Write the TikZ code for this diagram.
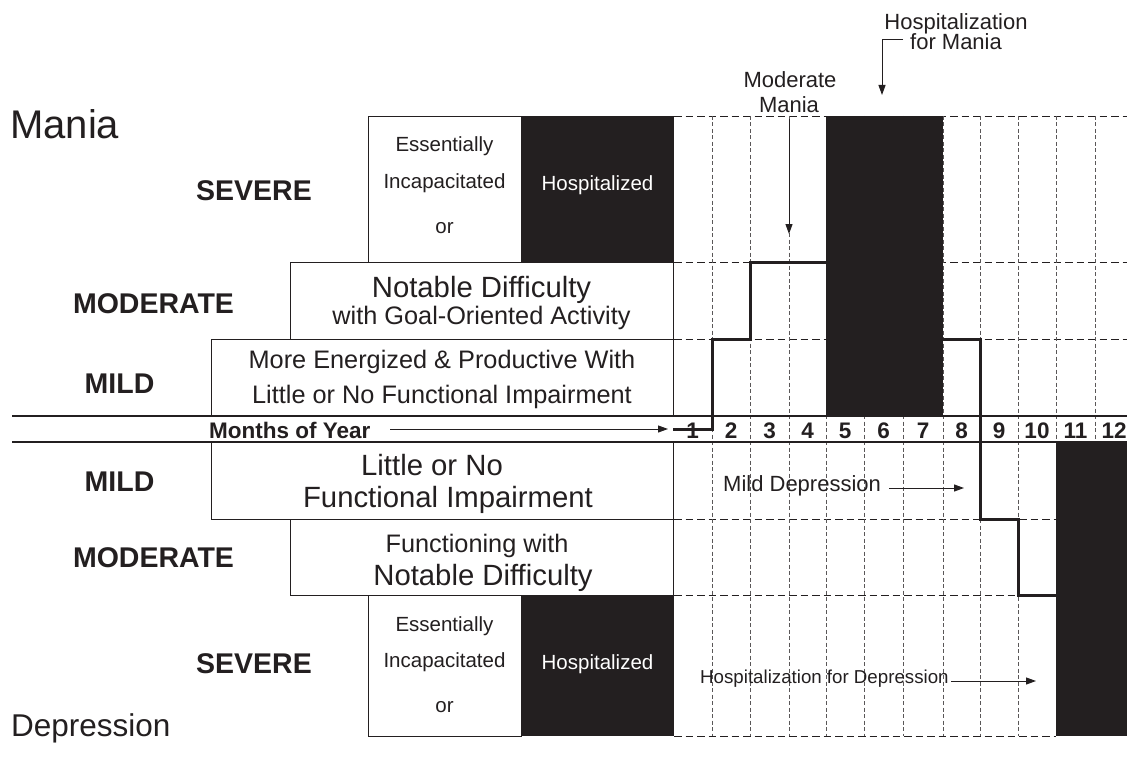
\documentclass[tikz,border=0pt]{standalone}
\usepackage{fontspec}
\setmainfont{Liberation Sans}
\usetikzlibrary{arrows.meta}
\definecolor{ink}{RGB}{35,31,32}
\begin{document}
\begin{tikzpicture}[x=1pt,y=-1pt,
  hgrid/.style={ink, line width=0.9pt, dash pattern=on 7.5pt off 4pt},
  vgrid/.style={ink!75, line width=0.8pt, dash pattern=on 4pt off 2.5pt},
  boxr/.style={draw=ink, line width=1.3pt, fill=white, inner sep=0pt, anchor=north west},
  blk/.style={fill=ink, draw=none, inner sep=0pt, anchor=north west},
  axis/.style={ink, line width=2.4pt},
  course/.style={ink, line width=3pt, line join=miter},
  arr/.style={ink, line width=1pt, -{Triangle[length=10pt,width=7pt]}},
  lvl/.style={font=\fontsize{28.5}{30}\selectfont\bfseries, text=ink, anchor=base, inner sep=0pt},
  big/.style={font=\fontsize{29.3}{32}\selectfont, text=ink, anchor=base, inner sep=0pt},
  mid/.style={font=\fontsize{25.3}{28}\selectfont, text=ink, anchor=base, inner sep=0pt},
  sml/.style={font=\fontsize{20.5}{24}\selectfont, text=ink, anchor=base, inner sep=0pt},
  ann/.style={font=\fontsize{22}{24}\selectfont, text=ink, anchor=base, inner sep=0pt},
  mon/.style={font=\fontsize{22.5}{24}\selectfont\bfseries, text=ink, anchor=base, inner sep=0pt},
  title/.style={text=ink, anchor=base west, inner sep=0pt}
]
\useasboundingbox (0,0) rectangle (1127,757);
\fill[white] (0,0) rectangle (1127,757);

% dashed grid
\foreach \y in {116,262,339,519,595} \draw[hgrid] (674,\y) -- (1127,\y);
\draw[hgrid] (674,736) -- (1056,736);
\foreach \x in {712,750,789,826,864,903,943,980,1018,1056,1095}
  \draw[vgrid] (\x,116) -- (\x,736);

% black periods
\node[blk, minimum width=117pt, minimum height=300pt] (hospM) at (826,116) {};
\node[blk, minimum width=71pt, minimum height=294pt] (hospD) at (1056,442) {};

% left description boxes (mania)
\node[boxr, minimum width=153pt, minimum height=146pt] (sevMw) at (368,116) {};
\node[blk, minimum width=153pt, minimum height=146pt] (sevMb) at (521,116) {};
\node[boxr, minimum width=383pt, minimum height=77pt] (modM) at (290,262) {};
\node[boxr, minimum width=462pt, minimum height=77pt] (mildM) at (211,339) {};
% left description boxes (depression)
\node[boxr, minimum width=462pt, minimum height=77pt] (mildD) at (211,442) {};
\node[boxr, minimum width=383pt, minimum height=76pt] (modD) at (290,519) {};
\node[boxr, minimum width=153pt, minimum height=141pt] (sevDw) at (368,595) {};
\node[blk, minimum width=153pt, minimum height=141pt] (sevDb) at (521,595) {};

% axis lines
\draw[axis] (12,416) -- (1127,416);
\draw[axis] (12,442) -- (1127,442);

% course of illness
\coordinate (c0) at (673,429);
\coordinate (c1) at (712,429);
\coordinate (c2) at (712,339);
\coordinate (c3) at (750,339);
\coordinate (c4) at (750,262);
\coordinate (c5) at (826,262);
\coordinate (d0) at (943,339);
\coordinate (d1) at (980,339);
\coordinate (d2) at (980,519);
\coordinate (d3) at (1018,519);
\coordinate (d4) at (1018,595);
\coordinate (d5) at (1056,595);
\draw[course] (c0) -- (c1) -- (c2) -- (c3) -- (c4) -- (c5);
\draw[course] (d0) -- (d1) -- (d2) -- (d3) -- (d4) -- (d5);

% titles
\node[title, font=\fontsize{40}{44}\selectfont] (mania) at (10,139) {Mania};
\node[title, font=\fontsize{31.5}{34}\selectfont] (depr) at (11,736) {Depression};

% level labels
\node[lvl] (lsevM) at (254,200) {SEVERE};
\node[lvl] (lmodM) at (153.5,313) {MODERATE};
\node[lvl] (lmilM) at (119.5,393) {MILD};
\node[lvl] (lmilD) at (119.5,491) {MILD};
\node[lvl] (lmodD) at (153.5,567) {MODERATE};
\node[lvl] (lsevD) at (254,673) {SEVERE};

% box texts mania
\node[sml] at (444.5,152) {Essentially};
\node[sml] at (444.5,188) {Incapacitated};
\node[sml] at (444.5,233) {or};
\node[sml, text=white] at (597.5,190) {Hospitalized};
\node[big] at (481.5,297) {Notable Difficulty};
\node[mid] at (481.5,324) {with Goal-Oriented Activity};
\node[mid] at (442,368) {More Energized \& Productive With};
\node[mid] at (442,403) {Little or No Functional Impairment};
% box texts depression
\node[big] at (432,475) {Little or No};
\node[big] at (448,507) {Functional Impairment};
\node[mid] at (477,552) {Functioning with};
\node[big] at (483,585) {Notable Difficulty};
\node[sml] at (444.5,631) {Essentially};
\node[sml] at (444.5,667) {Incapacitated};
\node[sml] at (444.5,712) {or};
\node[sml, text=white] at (597.5,669) {Hospitalized};

% months
\node[mon, anchor=base west] (moy) at (209,438) {Months of Year};
\coordinate (moyEnd) at (668,429);
\draw[arr] (390,429) -- (moyEnd);
\foreach \n/\x in {1/692.5,2/731,3/769.5,4/807.5,5/845,6/883.5,7/923,8/961.5,9/999,10/1037,11/1075.5,12/1114}
  \node[mon] (m\n) at (\x,438) {\n};

% annotations
\node[ann] (modA) at (790,88) {Moderate};
\node[ann] (modB) at (789,113) {Mania};
\coordinate (modTip) at (789,234);
\draw[arr] (789,119) -- (modTip);

\node[ann] (hospA) at (956,30) {Hospitalization};
\node[ann] (hospB) at (956,50) {for Mania};
\coordinate (hospTip) at (882,95);
\draw[arr] (903,40) -- (882,40) -- (hospTip);

\node[ann, anchor=base west] (mildTxt) at (723,491) {Mild Depression};
\coordinate (mildTip) at (964,488);
\draw[arr] (889,488) -- (mildTip);

\node[font=\fontsize{18.7}{20}\selectfont, text=ink, anchor=base west, inner sep=0pt] (hdTxt) at (700,683) {Hospitalization for Depression};
\coordinate (hdTip) at (1036,681);
\draw[arr] (951,681) -- (hdTip);
\end{tikzpicture}
\end{document}
